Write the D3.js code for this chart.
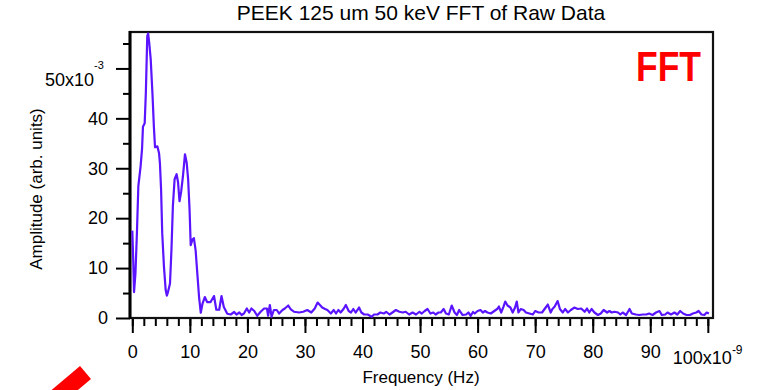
<!DOCTYPE html>
<html>
<head>
<meta charset="utf-8">
<script src="https://cdn.jsdelivr.net/npm/d3@7/dist/d3.min.js"></script>
<style>
    body{margin:0;background:#fff;}
    svg{display:block;font-family:"Liberation Sans",Arial,sans-serif;}
</style>
</head>
<body>
<svg id="chart" width="760" height="390"></svg>
<script>
// frequency, in units of 1e-9 Hz
var freq = [0,0.15,0.3,0.55,0.8,1.05,1.45,1.7,1.85,2.15,2.35,2.6,2.75,2.95,3.2,3.5,3.75,3.95,4.35,4.65,4.8,5.0,
    5.2,5.5,5.8,6.0,6.2,6.55,6.8,7.05,7.35,7.7,7.95,8.2,8.5,8.8,9.15,9.45,9.7,9.95,10.15,10.45,10.7,11.0,
    11.3,11.6,11.9,12.2,12.6,13.0,13.6,14.2,14.6,15.1,15.5,15.9,16.5,17.1,17.7,18.1,18.6,19.0,19.4,19.9,
    20.3,20.7,21.2,21.7,22.3,22.9,23.4,23.6,23.9,24.2,24.6,25.1,25.5,26.1,26.5,27.1,27.5,28.1,29.0,29.7,
    30.4,31.1,31.7,32.2,32.6,33.0,33.5,33.9,34.5,35.0,35.4,35.8,36.2,36.7,37.1,37.6,38.0,38.4,38.8,39.4,
    39.8,40.3,40.9,41.6,42.0,42.6,43.1,43.7,44.1,44.7,45.2,45.8,46.4,47.0,47.5,48.1,48.7,49.3,49.9,50.3,
    50.8,51.3,51.8,52.3,52.7,53.2,53.6,54.1,54.5,55.0,55.5,56.0,56.4,56.8,57.4,58.0,58.4,58.8,59.2,59.5,
    60.0,60.5,60.9,61.3,61.7,62.3,62.9,63.4,63.7,64.1,64.5,64.8,65.2,65.7,66.1,66.5,66.8,67.1,67.5,68.0,
    68.4,69.0,69.6,70.0,70.6,71.2,71.7,72.2,72.7,73.0,73.4,73.9,74.3,74.8,75.2,75.7,76.2,76.8,77.4,78.0,
    78.6,79.0,79.4,79.8,80.3,80.9,81.4,81.9,82.5,82.9,83.3,83.8,84.4,84.8,85.2,85.8,86.4,86.8,87.5,88.1,
    88.7,89.3,89.8,90.4,91.0,91.6,92.0,92.6,93.0,93.6,94.2,94.7,95.2,95.7,96.3,96.9,97.4,98.0,98.4,98.9,
    99.4,99.8,100.2];
// amplitude, in units of 1e-3
var amp = [17.5,12,5.2,9,17,26.4,30.5,34,38.3,39,45,56.5,57,55,51.8,45,38.3,34.2,34.4,33,31,25.8,
    17,10.3,5.6,4.5,5.2,6.9,13.6,22.4,27.8,28.8,27.2,23.4,25.4,28.4,32.8,31.1,27.8,21.7,14.6,15.7,16,13.6,
    8.9,4.2,1.05,2.9,4.2,3.2,3.2,4.4,1.65,1.65,4.4,2.2,0.85,0.7,1.2,0.7,1.1,0.6,0.9,1.9,
    1.1,1.9,1.4,0.45,1.25,1.9,1.9,0.45,2.6,0.25,1.6,1.6,0.9,1.6,1.9,2.5,1.8,1.25,1.1,1.25,
    1.6,1.1,1.9,3.1,2.6,2.1,1.8,1.6,0.9,1.6,0.9,1.6,1.1,1.8,2.6,1.4,1.1,1.8,1.1,2.1,
    1.1,0.7,0.7,0.25,0.7,0.7,1.1,0.9,1.25,0.7,1.1,1.6,1.25,1.1,1.25,0.7,1.1,0.7,1.25,0.9,
    1.4,1.8,0.9,1.1,0.7,1.1,1.1,1.8,0.9,0.7,2.5,1.1,0.6,1.6,0.6,0.7,1.1,0.45,1.2,0.9,
    1.4,1.6,1.1,1.4,1.1,0.9,1.4,1.8,2.3,1.1,2.3,3.3,2.5,2.1,1.1,2.1,3.3,1.1,1.8,1.6,
    1.1,0.9,0.7,1.4,1.1,1.1,1.9,2.7,1.1,1.8,2.3,3.4,1.8,1.1,1.8,1.1,1.6,2.1,1.8,1.9,
    1.25,1.9,1.1,1.8,1.1,0.6,0.9,1.6,1.1,1.4,1.1,1.25,1.1,0.7,1.1,0.6,1.8,0.9,0.7,0.6,
    0.7,0.7,0.9,0.6,1.1,1.4,0.6,0.7,1.1,0.7,1.1,0.7,1.4,0.9,0.6,0.6,0.9,1.1,1.4,0.7,
    0.6,1.1,0.9];

var xMajorTicks = [0,10,20,30,40,50,60,70,80,90,100];
var xMinorTicks = d3.range(0,101,2);
var yMajorTicks = [0,10,20,30,40,50];
var yMinorTicks = [5,15,25,35,45,55];

var titleText = "PEEK 125 um 50 keV FFT of Raw Data";
var xLabelText = "Frequency (Hz)";
var yLabelText = "Amplitude (arb. units)";

var svg = d3.select("#chart");
var xScale = d3.scaleLinear().domain([-0.4,100.9]).range([130,713]);
var yScale = d3.scaleLinear().domain([0,57.3]).range([318,32]);

drawAxes();
drawCurve();
drawLabels();

/**
 * axes, ticks and frame
 */
function drawAxes(){
    var xMinor = svg.append("g")
        .attr("transform","translate(0,"+yScale(0)+")")
        .call(d3.axisBottom(xScale).tickValues(xMinorTicks).tickSize(8).tickFormat(""));
    var xMajor = svg.append("g")
        .classed("x-major",true)
        .attr("transform","translate(0,"+yScale(0)+")")
        .call(d3.axisBottom(xScale).tickValues(xMajorTicks).tickSize(15).tickPadding(12)
            .tickFormat(function(d){ return d===100 ? "" : d; }));
    var yMinor = svg.append("g")
        .attr("transform","translate(130,0)")
        .call(d3.axisLeft(yScale).tickValues(yMinorTicks).tickSize(7).tickFormat(""));
    var yMajor = svg.append("g")
        .attr("transform","translate(130,0)")
        .call(d3.axisLeft(yScale).tickValues(yMajorTicks).tickSize(14).tickPadding(8)
            .tickFormat(function(d){ return d===50 ? "" : d; }));

    [xMinor,xMajor,yMinor,yMajor].forEach(function(g){
        g.select(".domain").remove();
        g.selectAll(".tick line").attr("stroke","#000").attr("stroke-width",2);
        g.selectAll(".tick text")
            .attr("fill","#000")
            .style("font-size","18px")
            .style("font-family","'Liberation Sans',Arial,sans-serif");
    });

    // frame
    svg.append("rect")
        .attr("x",130).attr("y",32)
        .attr("width",583).attr("height",286)
        .attr("fill","none")
        .attr("stroke","#111")
        .attr("stroke-width",2.2);
    svg.append("line")
        .attr("x1",130).attr("y1",31).attr("x2",130).attr("y2",319)
        .attr("stroke","#000").attr("stroke-width",3);

    // scaled end labels
    var xEnd = svg.append("text")
        .attr("x",xScale(100)-35).attr("y",364)
        .style("font-size","18px");
    xEnd.append("tspan").text("100x10");
    xEnd.append("tspan").attr("dy",-10).style("font-size","12px").text("-9");

    var yEnd = svg.append("text")
        .attr("x",45).attr("y",yScale(50)+18)
        .style("font-size","18px");
    yEnd.append("tspan").text("50x10");
    yEnd.append("tspan").attr("dy",-17).style("font-size","11px").text("-3");
}

/**
 * FFT curve
 */
function drawCurve(){
    var points = freq.map(function(f,i){ return [f,amp[i]]; });
    var line = d3.line()
        .x(function(d){ return xScale(d[0]); })
        .y(function(d){ return yScale(d[1]); });
    svg.append("path")
        .datum(points)
        .attr("d",line)
        .attr("fill","none")
        .attr("stroke","#5a14ff")
        .attr("stroke-width",2.2)
        .attr("stroke-linejoin","round");
}

/**
 * titles and annotations
 */
function drawLabels(){
    svg.append("text")
        .attr("x",421).attr("y",20)
        .attr("text-anchor","middle")
        .style("font-size","21px")
        .text(titleText);
    svg.append("text")
        .attr("x",421).attr("y",383)
        .attr("text-anchor","middle")
        .style("font-size","17px")
        .text(xLabelText);
    svg.append("text")
        .attr("transform","translate(42,189) rotate(-90)")
        .attr("text-anchor","middle")
        .style("font-size","17px")
        .text(yLabelText);

    svg.append("text")
        .attr("x",636).attr("y",81)
        .attr("fill","#ff0000")
        .attr("textLength",65)
        .attr("lengthAdjust","spacingAndGlyphs")
        .style("font-size","42px")
        .style("font-weight","bold")
        .text("FFT");

    // red arrow shaft at bottom left, cut by the page edge
    svg.append("line")
        .attr("x1",47).attr("y1",405)
        .attr("x2",85.5).attr("y2",372.5)
        .attr("stroke","#ff0000")
        .attr("stroke-width",17);
}
</script>
</body>
</html>
